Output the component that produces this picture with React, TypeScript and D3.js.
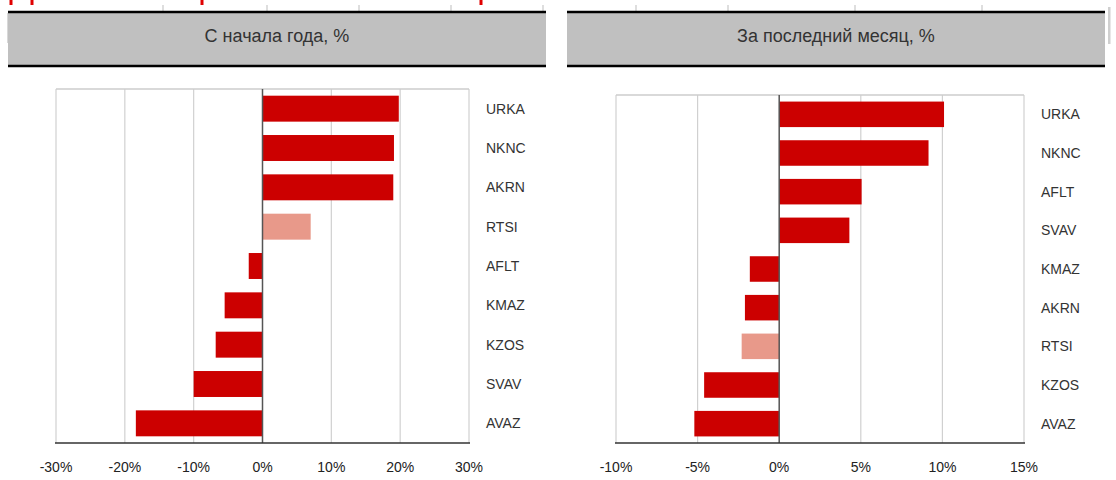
import React, { useEffect, useRef } from 'react';
import * as d3 from 'd3';

// С начала года
const ytdNames = ['URKA', 'NKNC', 'AKRN', 'RTSI', 'AFLT', 'KMAZ', 'KZOS', 'SVAV', 'AVAZ'];
const ytdValues = [19.8, 19.1, 19.0, 7.0, -2.0, -5.5, -6.8, -10.0, -18.4];
const ytdTicks = [-30, -20, -10, 0, 10, 20, 30];

// За последний месяц
const monthNames = ['URKA', 'NKNC', 'AFLT', 'SVAV', 'KMAZ', 'AKRN', 'RTSI', 'KZOS', 'AVAZ'];
const monthValues = [10.1, 9.15, 5.05, 4.3, -1.8, -2.1, -2.3, -4.6, -5.2];
const monthTicks = [-10, -5, 0, 5, 10, 15];

const titles = ['С начала года, %', 'За последний месяц, %'];

const RED = '#cc0000';
const INDEX = '#e8998a';
const FONT = '"Liberation Sans Narrow", "Arial Narrow", "Liberation Sans", Arial, sans-serif';

function drawPanel(svg, opts) {
  const { names, values, ticks, left, right, top, bottom, title, head } = opts;
  const g = svg.append('g');

  // header
  g.append('rect')
    .attr('x', head[0]).attr('y', 13)
    .attr('width', head[1] - head[0]).attr('height', 52)
    .attr('fill', '#c0c0c0');
  [12, 66].forEach(yy => {
    g.append('line')
      .attr('x1', head[0]).attr('x2', head[1])
      .attr('y1', yy).attr('y2', yy)
      .attr('stroke', '#000').attr('stroke-width', 2.5);
  });
  g.append('text')
    .attr('x', (head[0] + head[1]) / 2).attr('y', 42)
    .attr('text-anchor', 'middle')
    .attr('font-family', FONT).attr('font-size', 18)
    .attr('fill', '#333')
    .text(title);

  const x = d3.scaleLinear().domain([ticks[0], ticks[ticks.length - 1]]).range([left, right]);
  const y = d3.scaleBand().domain(names).range([top, bottom]).paddingInner(0.34).paddingOuter(0.17);

  // grid
  g.selectAll('.grid')
    .data(ticks.filter(t => t !== 0))
    .enter()
    .append('line')
    .attr('x1', d => x(d)).attr('x2', d => x(d))
    .attr('y1', top).attr('y2', bottom)
    .attr('stroke', '#d0d0d0').attr('stroke-width', 1.2);

  g.append('line')
    .attr('x1', left).attr('x2', right).attr('y1', top).attr('y2', top)
    .attr('stroke', '#cccccc').attr('stroke-width', 1.5);

  // bars
  g.selectAll('.bar')
    .data(names)
    .enter()
    .append('rect')
    .attr('x', (d, i) => x(Math.min(0, values[i])))
    .attr('y', d => y(d))
    .attr('width', (d, i) => Math.abs(x(values[i]) - x(0)))
    .attr('height', y.bandwidth())
    .attr('fill', d => (d === 'RTSI' ? INDEX : RED));

  // zero line
  g.append('line')
    .attr('x1', x(0)).attr('x2', x(0)).attr('y1', top).attr('y2', bottom)
    .attr('stroke', '#555').attr('stroke-width', 1.5);

  // bottom axis
  g.append('line')
    .attr('x1', left - 1).attr('x2', right + 1).attr('y1', bottom).attr('y2', bottom)
    .attr('stroke', '#333').attr('stroke-width', 1.5);

  g.selectAll('.tick')
    .data(ticks)
    .enter()
    .append('text')
    .attr('x', d => x(d)).attr('y', 472)
    .attr('text-anchor', 'middle')
    .attr('font-family', FONT).attr('font-size', 14)
    .attr('fill', '#222')
    .text(d => d + '%');

  g.selectAll('.cat')
    .data(names)
    .enter()
    .append('text')
    .attr('x', right + 17)
    .attr('y', d => y(d) + y.bandwidth() / 2 + 5)
    .attr('font-family', FONT).attr('font-size', 14)
    .attr('fill', '#333')
    .text(d => d);
}

function App() {
  const svgRef = useRef(null);

  useEffect(() => {
    const svg = d3.select(svgRef.current);
    svg.selectAll('*').remove();

    // remnants of the charts cut off above
    const grayMarks = [163, 267, 359, 451, 543, 636, 728, 855, 982];
    const redMarks = [11, 32, 202, 481];
    svg.selectAll('.gm').data(grayMarks).enter().append('line')
      .attr('x1', d => d).attr('x2', d => d).attr('y1', 5).attr('y2', 11)
      .attr('stroke', '#c8c8c8').attr('stroke-width', 1.2);
    svg.selectAll('.rm').data(redMarks).enter().append('rect')
      .attr('x', d => d - 1.5).attr('y', 0).attr('width', 3).attr('height', 5)
      .attr('fill', '#e00000');
    svg.append('rect').attr('x', 7).attr('y', 13).attr('width', 1.5).attr('height', 30).attr('fill', '#d8d8d8');
    svg.append('rect').attr('x', 1108).attr('y', 7).attr('width', 2.5).attr('height', 37).attr('fill', '#cfcfcf');

    drawPanel(svg, {
      names: ytdNames, values: ytdValues, ticks: ytdTicks,
      left: 56, right: 469, top: 89, bottom: 443,
      title: titles[0], head: [8, 546],
    });
    drawPanel(svg, {
      names: monthNames, values: monthValues, ticks: monthTicks,
      left: 616, right: 1024, top: 95, bottom: 443,
      title: titles[1], head: [567, 1105],
    });
  }, []);

  return (
    <svg ref={svgRef} width={1116} height={480}
      style={{ position: 'absolute', left: 0, top: 0, background: '#fff' }} />
  );
}

export default App;
